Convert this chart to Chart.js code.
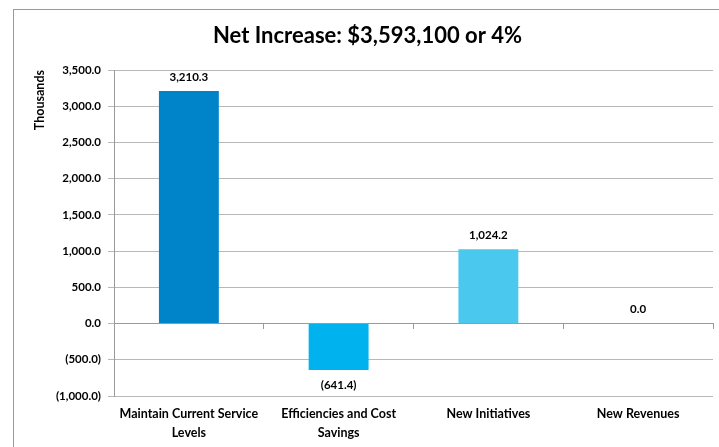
<!DOCTYPE html>
<html>
<head>
<meta charset="utf-8">
<script src="https://cdn.jsdelivr.net/npm/chart.js@4.4.1/dist/chart.umd.min.js"></script>
<style>
  html, body { margin: 0; padding: 0; background: #fff; }
  #wrap { position: relative; width: 719px; height: 447px; overflow: hidden; }
  #frame { position: absolute; left: 13px; top: 9px; width: 800px; height: 600px;
           border-left: 1px solid #9a9a9a; border-top: 1px solid #9a9a9a; pointer-events: none; }
  canvas { position: absolute; left: 0; top: 0; }
</style>
</head>
<body>
<div id="wrap">
  <canvas id="c" width="719" height="447"></canvas>
  <div id="frame"></div>
</div>
<script>
const titleText = "Net Increase: $3,593,100 or 4%";
const yAxisTitle = "Thousands";
const categories = [["Maintain Current Service", "Levels"], ["Efficiencies and Cost", "Savings"], "New Initiatives", "New Revenues"];
const values = [3210.3, -641.4, 1024.2, 0.0];
const barColors = ["#0084C9", "#00B2EE", "#4AC8EE", "#4AC8EE"];
const yMin = -1000, yMax = 3500, yStep = 500;

const FONT = "Lato, 'Open Sans', sans-serif";

function fmt(v) {
  const s = Math.abs(v).toLocaleString('en-US', { minimumFractionDigits: 1, maximumFractionDigits: 1 });
  return v < 0 ? "(" + s + ")" : s;
}

const dataLabels = {
  id: 'dataLabels',
  afterDatasetsDraw(chart) {
    const ctx = chart.ctx;
    const meta = chart.getDatasetMeta(0);
    const area = chart.chartArea;
    ctx.save();
    ctx.font = "bold 11.5px " + FONT;
    ctx.fillStyle = "#000";
    ctx.textAlign = "center";
    ctx.textBaseline = "middle";
    meta.data.forEach((bar, i) => {
      const v = values[i];
      let y;
      if (v < 0) y = bar.y + 15;
      else y = Math.max(bar.y - 14, area.top - 6);
      ctx.fillText(fmt(v), bar.x, y);
    });
    ctx.restore();
  }
};

new Chart(document.getElementById('c'), {
  type: 'bar',
  data: {
    labels: categories,
    datasets: [{
      data: values,
      backgroundColor: barColors,
      borderWidth: 0,
      barPercentage: 0.4,
      categoryPercentage: 1.0,
      xAxisID: 'x',
      yAxisID: 'y'
    }]
  },
  options: {
    responsive: false,
    animation: false,
    layout: { padding: { left: 22, right: 6, top: 20, bottom: 0 } },
    plugins: {
      legend: { display: false },
      tooltip: { enabled: false },
      title: {
        display: true,
        text: titleText,
        color: "#000",
        font: { family: FONT, size: 22, weight: 'bold' },
        padding: { top: 3, bottom: 20.6 }
      }
    },
    scales: {
      y: {
        min: yMin, max: yMax,
        afterFit(scale) { scale.width = 92; },
        ticks: {
          stepSize: yStep,
          color: "#000",
          font: { family: FONT, size: 11.5, weight: 'bold' },
          padding: 7,
          callback: (v) => fmt(v)
        },
        grid: { color: "#b8b8b8", lineWidth: 1, tickLength: 6 },
        border: { display: true, color: "#9a9a9a" },
        title: {
          display: true,
          text: yAxisTitle,
          align: 'end',
          color: "#000",
          font: { family: FONT, size: 12.5, weight: 'bold' },
          padding: { top: 10, bottom: 0 }
        }
      },
      x: {
        position: 'bottom',
        afterFit(scale) { scale.height = 51; },
        ticks: {
          color: "#000",
          font: { family: FONT, size: 12.5, weight: 'bold', lineHeight: 1.5 },
          padding: 1,
          maxRotation: 0,
          autoSkip: false
        },
        grid: { display: false },
        border: { display: false }
      },
      x2: {
        type: 'category',
        position: { y: 0 },
        offset: true,
        ticks: { display: false },
        grid: { offset: true, drawOnChartArea: false, tickLength: 5, color: "#9a9a9a" },
        border: { display: true, color: "#9a9a9a" }
      }
    }
  },
  plugins: [dataLabels]
});
</script>
</body>
</html>
